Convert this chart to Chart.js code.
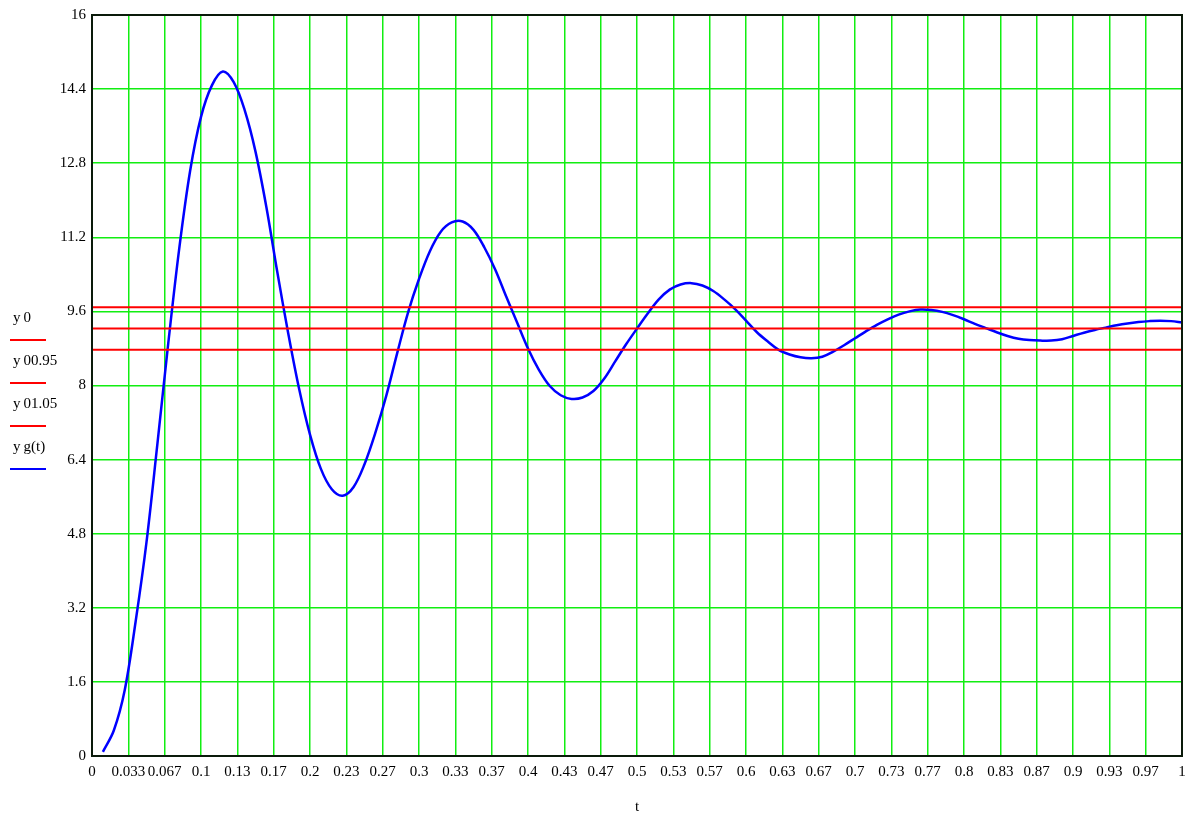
<!DOCTYPE html>
<html>
<head>
<meta charset="utf-8">
<script src="https://cdn.jsdelivr.net/npm/chart.js@4/dist/chart.umd.min.js"></script>
<style>
  html, body { margin: 0; padding: 0; background: #fff; }
  #wrap { width: 1200px; height: 816px; position: relative; }
</style>
</head>
<body>
<div id="wrap"><canvas id="c" width="1200" height="816"></canvas></div>
<script>
// ---- data ----
const tValues = [0.01,0.02,0.03,0.04,0.05,0.06,0.07,0.08,0.09,0.10,
  0.11,0.12,0.13,0.14,0.15,0.16,0.17,0.18,0.19,0.20,
  0.21,0.22,0.23,0.24,0.25,0.26,0.27,0.28,0.29,0.30,
  0.31,0.32,0.33,0.34,0.35,0.36,0.37,0.38,0.39,0.40,
  0.41,0.42,0.43,0.44,0.45,0.46,0.47,0.48,0.49,0.50,
  0.51,0.52,0.53,0.54,0.55,0.56,0.57,0.58,0.59,0.60,
  0.61,0.62,0.63,0.64,0.65,0.66,0.67,0.68,0.69,0.70,
  0.71,0.72,0.73,0.74,0.75,0.76,0.77,0.78,0.79,0.80,
  0.81,0.82,0.83,0.84,0.85,0.86,0.87,0.88,0.89,0.90,
  0.91,0.92,0.93,0.94,0.95,0.96,0.97,0.98,0.99,1.00];
const ygValues = [0.09,0.55,1.42,2.90,4.62,6.74,8.92,10.95,12.63,13.80,
  14.48,14.78,14.55,13.95,13.05,11.85,10.45,9.13,7.93,6.94,
  6.20,5.76,5.62,5.81,6.30,6.98,7.78,8.70,9.58,10.30,
  10.90,11.32,11.52,11.54,11.36,10.98,10.50,9.92,9.36,8.80,
  8.34,7.99,7.79,7.71,7.74,7.88,8.15,8.52,8.89,9.23,
  9.56,9.86,10.07,10.18,10.21,10.16,10.04,9.86,9.65,9.40,
  9.15,8.95,8.77,8.67,8.61,8.59,8.62,8.73,8.87,9.02,
  9.17,9.31,9.43,9.53,9.60,9.64,9.63,9.59,9.52,9.43,
  9.33,9.24,9.15,9.07,9.01,8.98,8.97,8.97,9.00,9.07,
  9.14,9.20,9.25,9.30,9.34,9.37,9.39,9.40,9.39,9.36];
const y0Level = 9.23;
const y0Low = 8.77;   // y0*0.95
const y0High = 9.69;  // y0*1.05
const lineSpan = [0, 1];

const yTickValues = [0,1.6,3.2,4.8,6.4,8,9.6,11.2,12.8,14.4,16];
const yTickLabels = ["0","1.6","3.2","4.8","6.4","8","9.6","11.2","12.8","14.4","16"];
const xTickValues = [0,1/30,2/30,3/30,4/30,5/30,6/30,7/30,8/30,9/30,10/30,
  11/30,12/30,13/30,14/30,15/30,16/30,17/30,18/30,19/30,20/30,
  21/30,22/30,23/30,24/30,25/30,26/30,27/30,28/30,29/30,1];
const xTickLabels = ["0","0.033","0.067","0.1","0.13","0.17","0.2","0.23","0.27","0.3","0.33",
  "0.37","0.4","0.43","0.47","0.5","0.53","0.57","0.6","0.63","0.67",
  "0.7","0.73","0.77","0.8","0.83","0.87","0.9","0.93","0.97","1"];
const legendLabels = ["y\u20090", "y\u200900.95", "y\u200901.05", "y\u2009g(t)"];
const legendColors = ["#ff0000", "#ff0000", "#ff0000", "#0000ff"];
const xTitle = "t";

// ---- chart ----
const FONT = "'Liberation Serif', 'DejaVu Serif', serif";
const curve = tValues.map((t, i) => ({x: t, y: ygValues[i]}));
const hLine = v => lineSpan.map(x => ({x: x, y: v}));

const framePlugin = {
  id: 'frame',
  afterDatasetsDraw(chart) {
    const {ctx, chartArea: a} = chart;
    ctx.save();
    ctx.strokeStyle = '#0a1a0a';
    ctx.lineWidth = 2;
    ctx.strokeRect(a.left, a.top, a.right - a.left, a.bottom - a.top);
    ctx.restore();
  },
  afterDraw(chart) {
    const {ctx, chartArea: a} = chart;
    ctx.save();
    ctx.font = "15px " + FONT;
    ctx.fillStyle = '#000';
    ctx.textBaseline = 'middle';
    legendLabels.forEach((lab, i) => {
      const ty = 318 + i * 43;
      ctx.textAlign = 'left';
      ctx.fillText(lab, 13, ty);
      ctx.strokeStyle = legendColors[i];
      ctx.lineWidth = 2;
      ctx.beginPath();
      ctx.moveTo(10, ty + 22);
      ctx.lineTo(46, ty + 22);
      ctx.stroke();
    });
    ctx.textAlign = 'center';
    ctx.fillText(xTitle, (a.left + a.right) / 2, 807);
    ctx.restore();
  }
};

new Chart(document.getElementById('c'), {
  type: 'line',
  data: {
    datasets: [
      { label: 'y0*1.05', data: hLine(y0High), borderColor: '#ff0000', borderWidth: 2, pointRadius: 0, tension: 0 },
      { label: 'y0', data: hLine(y0Level), borderColor: '#ff0000', borderWidth: 2, pointRadius: 0, tension: 0 },
      { label: 'y0*0.95', data: hLine(y0Low), borderColor: '#ff0000', borderWidth: 2, pointRadius: 0, tension: 0 },
      { label: 'yg(t)', data: curve, borderColor: '#0000ff', borderWidth: 2.5, pointRadius: 0, tension: 0.35 }
    ]
  },
  options: {
    responsive: false,
    animation: false,
    events: [],
    layout: { padding: { left: 0, right: 18, top: 14, bottom: 0 } },
    plugins: { legend: { display: false }, tooltip: { enabled: false } },
    scales: {
      x: {
        type: 'linear',
        min: 0, max: 1,
        afterBuildTicks(scale) { scale.ticks = xTickValues.map(v => ({value: v})); },
        afterFit(scale) { scale.height = 60; },
        ticks: {
          autoSkip: false, maxRotation: 0, minRotation: 0, padding: 7,
          color: '#000', font: { family: FONT, size: 15 },
          callback: (v, i) => xTickLabels[i]
        },
        grid: { color: '#11ee11', lineWidth: 1.5, drawTicks: false },
        border: { display: false }
      },
      y: {
        type: 'linear',
        min: 0, max: 16,
        afterBuildTicks(scale) { scale.ticks = yTickValues.map(v => ({value: v})); },
        afterFit(scale) { scale.width = 92; },
        ticks: {
          autoSkip: false, padding: 6,
          color: '#000', font: { family: FONT, size: 15 },
          callback: (v, i) => yTickLabels[i]
        },
        grid: { color: '#11ee11', lineWidth: 1.5, drawTicks: false },
        border: { display: false }
      }
    }
  },
  plugins: [framePlugin]
});
</script>
</body>
</html>
